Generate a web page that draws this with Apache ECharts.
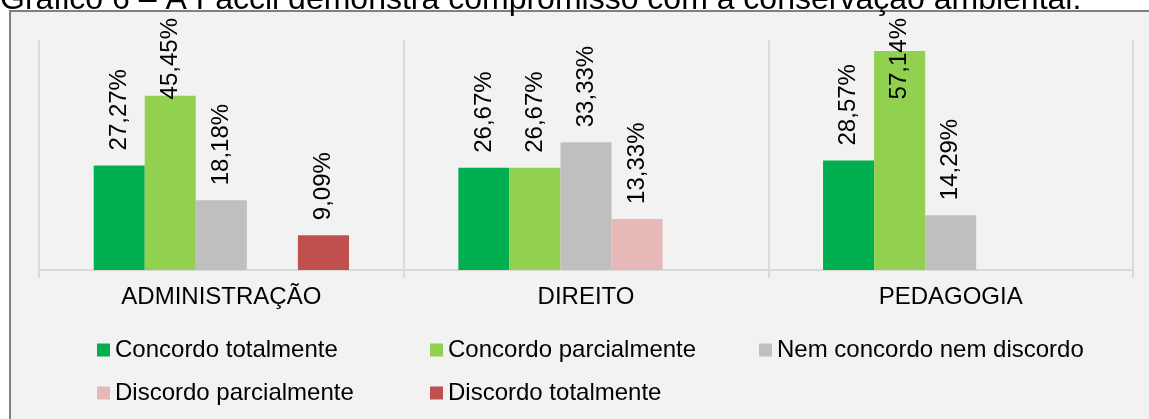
<!DOCTYPE html>
<html>
<head>
<meta charset="utf-8">
<script src="https://cdn.jsdelivr.net/npm/echarts@6/dist/echarts.min.js"></script>
<style>
html,body{margin:0;padding:0;background:#ffffff;}
#chart{width:1149px;height:419px;}
</style>
</head>
<body>
<div id="chart"></div>
<script>
const titleText = 'Gráfico 6 – A Faccil demonstra compromisso com a conservação ambiental.';
const categories = ['ADMINISTRAÇÃO', 'DIREITO', 'PEDAGOGIA'];
const seriesNames = ['Concordo totalmente', 'Concordo parcialmente', 'Nem concordo nem discordo', 'Discordo parcialmente', 'Discordo totalmente'];
const concordoTotalmente = [27.27, 26.67, 28.57];
const concordoParcialmente = [45.45, 26.67, 57.14];
const nemConcordoNemDiscordo = [18.18, 33.33, 14.29];
const discordoParcialmente = [null, 13.33, null];
const discordoTotalmente = [9.09, null, null];
const seriesColors = ['#00B050', '#92D050', '#BFBFBF', '#E6B9B8', '#C0504D'];

const FONT = '"Liberation Sans", Arial, sans-serif';
const LABEL_SIZE = 24;
const LABEL_GAP = 15;
const LABEL_MIN_TOP = 18;
const valuesList = [concordoTotalmente, concordoParcialmente, nemConcordoNemDiscordo, discordoParcialmente, discordoTotalmente];

const fmt = v => v.toFixed(2).replace('.', ',') + '%';

function buildSeries(distances) {
  return seriesNames.map((name, i) => ({
    name: name,
    type: 'bar',
    data: valuesList[i].map((v, j) => {
      if (v == null) return null;
      const d = distances ? distances[i][j] : LABEL_GAP;
      return { value: v, label: { distance: d } };
    }),
    barGap: '0%',
    barCategoryGap: '30%',
    itemStyle: { color: seriesColors[i] },
    label: {
      show: true,
      position: 'top',
      distance: LABEL_GAP,
      rotate: 90,
      align: 'left',
      verticalAlign: 'middle',
      color: '#000',
      fontFamily: FONT,
      fontSize: LABEL_SIZE,
      formatter: p => p.value == null ? '' : fmt(p.value)
    }
  }));
}

const legendPos = [
  { left: 97, top: 338 },
  { left: 430, top: 338 },
  { left: 759, top: 338 },
  { left: 97, top: 381 },
  { left: 430, top: 381 }
];
const legends = seriesNames.map((name, i) => ({
  data: [name],
  left: legendPos[i].left,
  top: legendPos[i].top,
  padding: 0,
  itemWidth: 13,
  itemHeight: 13,
  icon: 'rect',
  selectedMode: false,
  textStyle: { fontFamily: FONT, fontSize: 24, color: '#000' }
}));

const chart = echarts.init(document.getElementById('chart'), null, { renderer: 'canvas' });
chart.setOption({
  animation: false,
  backgroundColor: '#ffffff',
  graphic: [
    {
      type: 'rect', z: -10, silent: true,
      shape: { x: 10, y: 11, width: 1300, height: 600 },
      style: { fill: '#F2F2F2', stroke: '#7F7F7F', lineWidth: 2 }
    },
    {
      type: 'text', z: 10, silent: true,
      left: 0, top: -16,
      style: { text: titleText, fontFamily: FONT, fontSize: 32, fill: '#000' }
    }
  ],
  legend: legends,
  grid: { left: 39, right: 16, top: 40, bottom: 149, containLabel: false },
  xAxis: {
    type: 'category',
    data: categories,
    axisLine: { show: true, lineStyle: { color: '#D9D9D9', width: 2 } },
    axisTick: { show: true, length: 8, lineStyle: { color: '#D9D9D9', width: 2 } },
    splitLine: { show: true, lineStyle: { color: '#D9D9D9', width: 2 } },
    axisLabel: { margin: 15, color: '#000', fontFamily: FONT, fontSize: 24 }
  },
  yAxis: {
    type: 'value', min: 0, max: 60, show: false,
    splitLine: { show: false }
  },
  series: buildSeries(null)
});

// Keep labels inside the chart area (like the original): shift down labels that would overflow the top.
const ctx = document.createElement('canvas').getContext('2d');
ctx.font = LABEL_SIZE + 'px ' + FONT;
const distances = valuesList.map((vals, i) => vals.map((v, j) => {
  if (v == null) return LABEL_GAP;
  const barTop = chart.convertToPixel({ gridIndex: 0 }, [j, v])[1];
  const w = ctx.measureText(fmt(v)).width;
  const textTop = barTop - LABEL_GAP - w;
  return textTop < LABEL_MIN_TOP ? barTop - LABEL_MIN_TOP - w : LABEL_GAP;
}));
chart.setOption({ series: buildSeries(distances) });
</script>
</body>
</html>
